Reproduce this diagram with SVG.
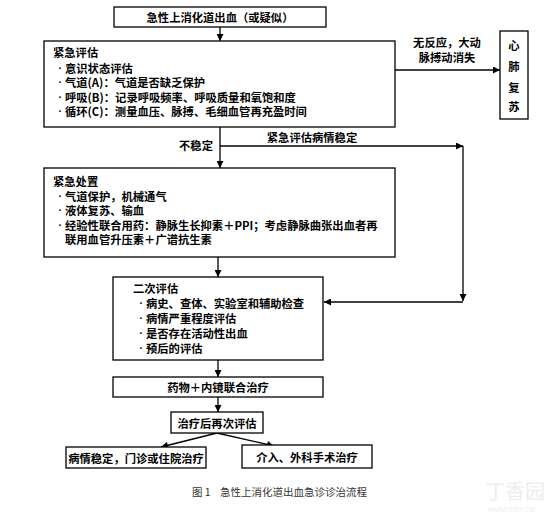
<svg xmlns="http://www.w3.org/2000/svg" width="560" height="522" viewBox="0 0 560 522">
<defs>
<marker id="ah" viewBox="0 0 10 10" refX="10" refY="5" markerWidth="8" markerHeight="7" markerUnits="userSpaceOnUse" orient="auto">
<path d="M0,0 L10,5 L0,10 z" fill="#000"/>
</marker>
</defs>
<style>
.box{fill:#fff;stroke:#000;stroke-width:1.3}
.t{font-family:"Noto Sans CJK SC","Liberation Serif",sans-serif;font-size:11.3px;fill:#000;font-weight:600}
.b{font-family:"Liberation Serif",serif;font-weight:bold}
.c{text-anchor:middle}
.ln{stroke:#000;stroke-width:1.3;fill:none}
.cap{font-family:"Noto Sans CJK SC","Liberation Serif",sans-serif;font-size:10.5px;fill:#333}
.wm{font-family:"Liberation Sans","Noto Sans CJK SC",sans-serif;fill:#ededed}
</style>
<rect width="560" height="522" fill="#fff"/>

<g id="connectors">
<line class="ln" x1="220" y1="27" x2="220" y2="41" marker-end="url(#ah)"/>
<line class="ln" x1="395" y1="70" x2="500" y2="70" marker-end="url(#ah)"/>
<line class="ln" x1="220" y1="127" x2="220" y2="168" marker-end="url(#ah)"/>
<line class="ln" x1="220" y1="146" x2="463" y2="146" marker-end="url(#ah)"/>
<line class="ln" x1="463" y1="146" x2="463" y2="301" marker-end="url(#ah)"/>
<line class="ln" x1="463" y1="302" x2="324" y2="302" marker-end="url(#ah)"/>
<line class="ln" x1="218" y1="257" x2="218" y2="277" marker-end="url(#ah)"/>
<line class="ln" x1="218" y1="360" x2="218" y2="377" marker-end="url(#ah)"/>
<line class="ln" x1="218" y1="397" x2="218" y2="412" marker-end="url(#ah)"/>
<line class="ln" x1="217" y1="433" x2="161" y2="447" marker-end="url(#ah)"/>
<line class="ln" x1="217" y1="433" x2="274" y2="446" marker-end="url(#ah)"/>
<text class="t c" x="447" y="42" dominant-baseline="central">无反应，大动</text>
<text class="t c" x="447" y="57" dominant-baseline="central">脉搏动消失</text>
<text class="t c" x="312" y="137" dominant-baseline="central">紧急评估病情稳定</text>
<text class="t c" x="196" y="145" dominant-baseline="central">不稳定</text>
</g>

<g id="start">
<rect class="box" x="114" y="7" width="212" height="20"/>
<text class="t c" x="220" y="17" dominant-baseline="central">急性上消化道出血（或疑似）</text>
</g>

<g id="assess">
<rect class="box" x="44" y="41" width="351" height="86"/>
<text class="t" x="53" y="52" dominant-baseline="central">紧急评估</text>
<text class="t" y="67.5" dominant-baseline="central"><tspan class="b" x="58">·</tspan><tspan x="65">意识状态评估</tspan></text>
<text class="t" y="82" dominant-baseline="central"><tspan class="b" x="58">·</tspan><tspan x="65">气道(A)：气道是否缺乏保护</tspan></text>
<text class="t" y="96.5" dominant-baseline="central"><tspan class="b" x="58">·</tspan><tspan x="65">呼吸(B)：记录呼吸频率、呼吸质量和氧饱和度</tspan></text>
<text class="t" y="111" dominant-baseline="central"><tspan class="b" x="58">·</tspan><tspan x="65">循环(C)：测量血压、脉搏、毛细血管再充盈时间</tspan></text>
</g>

<g id="cpr">
<rect class="box" x="500" y="31" width="28" height="88"/>
<text class="t c" x="514" y="45" dominant-baseline="central">心</text>
<text class="t c" x="514" y="66" dominant-baseline="central">肺</text>
<text class="t c" x="514" y="87" dominant-baseline="central">复</text>
<text class="t c" x="514" y="106" dominant-baseline="central">苏</text>
</g>

<g id="treat">
<rect class="box" x="44" y="168" width="351" height="89"/>
<text class="t" x="53" y="181" dominant-baseline="central">紧急处置</text>
<text class="t" y="195.5" dominant-baseline="central"><tspan class="b" x="58">·</tspan><tspan x="65">气道保护，机械通气</tspan></text>
<text class="t" y="210" dominant-baseline="central"><tspan class="b" x="58">·</tspan><tspan x="65">液体复苏、输血</tspan></text>
<text class="t" y="224.5" dominant-baseline="central"><tspan class="b" x="58">·</tspan><tspan x="65">经验性联合用药：静脉生长抑素＋PPI；考虑静脉曲张出血者再</tspan></text>
<text class="t" x="65" y="239" dominant-baseline="central">联用血管升压素＋广谱抗生素</text>
</g>

<g id="second">
<rect class="box" x="113" y="277" width="210" height="83"/>
<text class="t" x="133" y="288" dominant-baseline="central">二次评估</text>
<text class="t" y="303" dominant-baseline="central"><tspan class="b" x="139">·</tspan><tspan x="146">病史、查体、实验室和辅助检查</tspan></text>
<text class="t" y="318" dominant-baseline="central"><tspan class="b" x="139">·</tspan><tspan x="146">病情严重程度评估</tspan></text>
<text class="t" y="333" dominant-baseline="central"><tspan class="b" x="139">·</tspan><tspan x="146">是否存在活动性出血</tspan></text>
<text class="t" y="348" dominant-baseline="central"><tspan class="b" x="139">·</tspan><tspan x="146">预后的评估</tspan></text>
</g>

<g id="combo">
<rect class="box" x="113" y="377" width="210" height="20"/>
<text class="t c" x="218" y="387" dominant-baseline="central">药物＋内镜联合治疗</text>
</g>

<g id="reassess">
<rect class="box" x="171" y="412" width="92" height="21"/>
<text class="t c" x="217" y="423" dominant-baseline="central">治疗后再次评估</text>
</g>

<g id="stable">
<rect class="box" x="66" y="447" width="140" height="21"/>
<text class="t c" x="136" y="457.5" dominant-baseline="central">病情稳定，门诊或住院治疗</text>
</g>

<g id="surgery">
<rect class="box" x="242" y="445" width="130" height="23"/>
<text class="t c" x="307" y="457" dominant-baseline="central">介入、外科手术治疗</text>
</g>

<text class="cap" x="192" y="491" dominant-baseline="central">图 1</text>
<text class="cap" x="220" y="491" dominant-baseline="central">急性上消化道出血急诊诊治流程</text>
<text class="wm" x="485" y="492" font-size="20" dominant-baseline="central">丁香园</text>
<text class="wm" x="488" y="509" font-size="7" dominant-baseline="central">WWW.DXY.CN</text>
</svg>
